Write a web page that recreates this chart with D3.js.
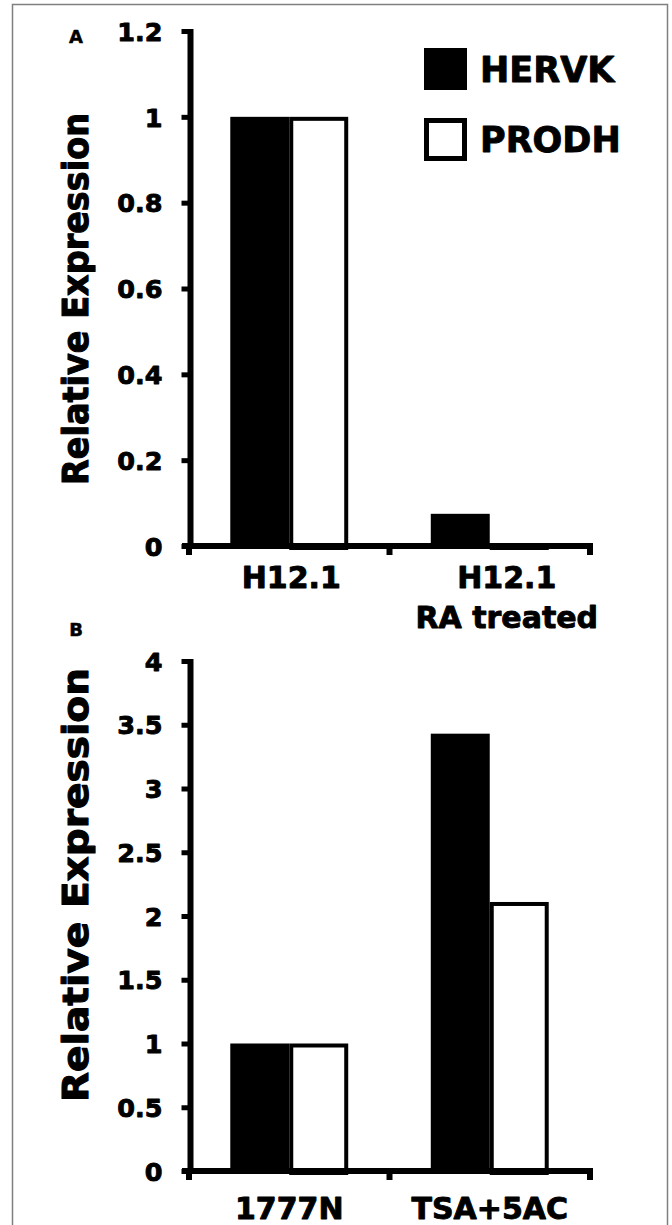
<!DOCTYPE html>
<html>
<head>
<meta charset="utf-8">
<script src="https://cdn.jsdelivr.net/npm/d3@7"></script>
<style>
  body { margin: 0; background: #fff; }
  svg text { font-family: "DejaVu Sans", Verdana, sans-serif; font-weight: bold; fill: #000;
    stroke: #000; stroke-width: 0.9px; stroke-linejoin: round; }
</style>
</head>
<body>
<svg id="chart" width="672" height="1225"></svg>
<script>
// series
const seriesNames = ["HERVK", "PRODH"];

// panel A
const categoriesA = ["H12.1", "H12.1\nRA treated"];
const hervkA = [1.0, 0.075];
const prodhA = [1.0, 0.003];
const yTicksA = [0, 0.2, 0.4, 0.6, 0.8, 1, 1.2];

// panel B
const categoriesB = ["1777N", "TSA+5AC"];
const hervkB = [1.0, 3.43];
const prodhB = [1.0, 2.11];
const yTicksB = [0, 0.5, 1, 1.5, 2, 2.5, 3, 3.5, 4];

const svg = d3.select("#chart");

// outer frame
svg.append("rect")
  .attr("x", 12.5).attr("y", 4.5)
  .attr("width", 655).attr("height", 1240)
  .attr("fill", "none").attr("stroke", "#7f7f7f").attr("stroke-width", 1.5);

function drawPanel(opts) {
  let g = svg.append("g");
  let x0 = d3.scaleBand().domain(opts.categories).range([189, 590]).padding(0);
  let x1 = d3.scaleBand().domain(seriesNames).range([0, x0.bandwidth()])
    .paddingInner(0).paddingOuter(0.7);
  let y = d3.scaleLinear().domain([0, opts.yMax]).range([opts.bottom, opts.top]);

  let rows = opts.categories.map((c, i) => ({
    cat: c,
    values: [
      { key: "HERVK", value: opts.hervk[i] },
      { key: "PRODH", value: opts.prodh[i] }
    ]
  }));

  // bars
  let grp = g.selectAll(".cat").data(rows).enter().append("g")
    .attr("transform", d => `translate(${x0(d.cat)},0)`);
  grp.selectAll("rect").data(d => d.values).enter().append("rect")
    .attr("x", d => x1(d.key) + (d.key === "PRODH" ? 2 : 0))
    .attr("y", d => y(d.value) + (d.key === "PRODH" ? 2 : 0))
    .attr("width", d => x1.bandwidth() - (d.key === "PRODH" ? 4 : 0))
    .attr("height", d => Math.max(0, opts.bottom - y(d.value)))
    .attr("fill", d => d.key === "HERVK" ? "#000" : "#fff")
    .attr("stroke", d => d.key === "PRODH" ? "#000" : "none")
    .attr("stroke-width", 4);

  // y axis
  let ya = g.append("g")
    .attr("transform", "translate(190.5,0)")
    .call(d3.axisLeft(y).tickValues(opts.yTicks).tickSize(9).tickSizeOuter(0)
      .tickPadding(19).tickFormat(d => String(d)));
  ya.select(".domain").attr("stroke", "#000").attr("stroke-width", 6)
    .attr("d", `M0,${opts.top - 2}V${opts.bottom}`);
  ya.selectAll(".tick line").attr("stroke", "#000").attr("stroke-width", 5);
  ya.selectAll(".tick text").style("font-size", "25.5px").attr("dy", "0.36em");

  // x axis
  let xa = g.append("g").attr("transform", `translate(0,${opts.bottom})`);
  xa.append("line")
    .attr("x1", 182).attr("x2", 593)
    .attr("stroke", "#000").attr("stroke-width", 6);
  let bounds = opts.categories.map(c => x0(c)).concat([x0.range()[1]]);
  xa.selectAll(".xtick").data(bounds).enter().append("line")
    .attr("x1", d => d).attr("x2", d => d)
    .attr("y1", 0).attr("y2", 9)
    .attr("stroke", "#000").attr("stroke-width", 6);
  let labels = xa.selectAll(".xlab").data(opts.categories).enter().append("text")
    .attr("text-anchor", "middle")
    .attr("transform", (d, i) => `translate(${x0(d) + x0.bandwidth() / 2 + opts.labelShift[i]},0)`)
    .style("font-size", "30px");
  labels.selectAll("tspan").data(d => d.split("\n")).enter().append("tspan")
    .attr("x", 0)
    .attr("y", (d, i) => opts.labelY + i * 40)
    .text(d => d);

  // y title
  g.append("text")
    .attr("transform", `translate(88,${opts.titleY}) rotate(-90)`)
    .attr("text-anchor", "middle")
    .attr("textLength", opts.titleLen)
    .attr("lengthAdjust", "spacingAndGlyphs")
    .style("font-size", "36px")
    .style("stroke-width", "1.1px")
    .text("Relative Expression");

  // panel letter
  g.append("text")
    .attr("x", 76).attr("y", opts.letterY)
    .attr("text-anchor", "middle")
    .style("font-size", "18px")
    .style("stroke-width", "0.5px")
    .text(opts.letter);
}

drawPanel({
  categories: categoriesA, hervk: hervkA, prodh: prodhA, yTicks: yTicksA,
  yMax: 1.2, top: 31, bottom: 546, labelY: 42, labelShift: [2, 17],
  titleY: 299, titleLen: 372, letter: "A", letterY: 43
});

drawPanel({
  categories: categoriesB, hervk: hervkB, prodh: prodhB, yTicks: yTicksB,
  yMax: 4, top: 661, bottom: 1171, labelY: 48, labelShift: [0, 0],
  titleY: 885, titleLen: 434, letter: "B", letterY: 636
});

// legend
const legend = svg.append("g").attr("transform", "translate(424,48)");
const li = legend.selectAll("g").data(seriesNames).enter().append("g")
  .attr("transform", (d, i) => `translate(0,${i * 70})`);
li.append("rect")
  .attr("x", d => d === "PRODH" ? 2.5 : 0)
  .attr("y", d => d === "PRODH" ? 2.5 : 0)
  .attr("width", d => d === "PRODH" ? 38 : 43)
  .attr("height", d => d === "PRODH" ? 38 : 42)
  .attr("fill", d => d === "HERVK" ? "#000" : "#fff")
  .attr("stroke", d => d === "PRODH" ? "#000" : "none")
  .attr("stroke-width", 5);
li.append("text")
  .attr("x", 56).attr("y", 34)
  .style("font-size", "35px")
  .text(d => d);
</script>
</body>
</html>
